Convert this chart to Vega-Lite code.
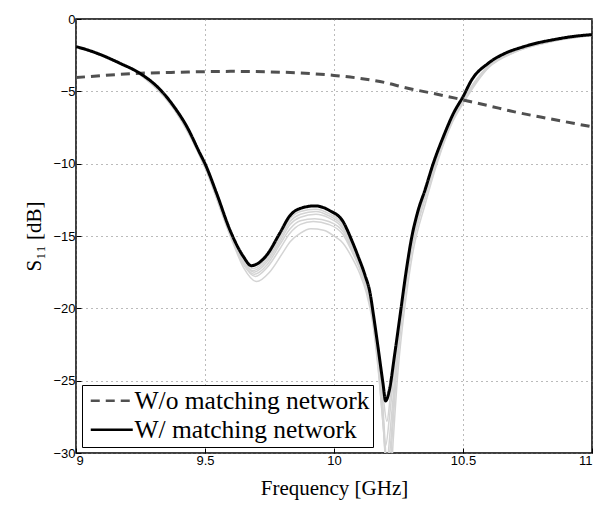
{
  "$schema": "https://vega.github.io/schema/vega-lite/v6.json",
  "width": 516,
  "height": 434,
  "autosize": {"type": "none"},
  "padding": {"left": 76, "top": 19, "right": 9, "bottom": 56},
  "background": "white",
  "config": {
    "view": {"stroke": "black", "strokeWidth": 1.5},
    "axis": {
      "domain": false,
      "grid": true,
      "gridColor": "#777777",
      "gridDash": [1, 4],
      "gridWidth": 1,
      "tickColor": "black",
      "tickSize": -5,
      "labelFont": "Liberation Sans",
      "labelFontSize": 13,
      "labelColor": "black",
      "titleFont": "Liberation Serif",
      "titleFontSize": 21,
      "titleFontWeight": "normal",
      "titleColor": "black"
    },
    "legend": {
      "orient": "bottom-left",
      "offset": 6,
      "strokeColor": "black",
      "fillColor": "white",
      "padding": 3,
      "title": null,
      "labelFont": "Liberation Serif",
      "labelFontSize": 25.5,
      "labelColor": "black",
      "labelLimit": 400,
      "symbolType": "M-1,0H5",
      "symbolSize": 196,
      "symbolStrokeWidth": 2.5,
      "rowPadding": 2,
      "labelOffset": 24
    }
  },
  "datasets": {
    "gray": [
      {"f": 9.0, "s": -1.91, "run": "g1"}, {"f": 9.1, "s": -2.5, "run": "g1"}, {"f": 9.25, "s": -3.8, "run": "g1"}, {"f": 9.38, "s": -6.1, "run": "g1"}, {"f": 9.5, "s": -10.05, "run": "g1"}, {"f": 9.6, "s": -14.8, "run": "g1"}, {"f": 9.65, "s": -16.6, "run": "g1"}, {"f": 9.685, "s": -17.25, "run": "g1"}, {"f": 9.74, "s": -16.5, "run": "g1"}, {"f": 9.79, "s": -15.0, "run": "g1"}, {"f": 9.83, "s": -13.8, "run": "g1"}, {"f": 9.87, "s": -13.3, "run": "g1"}, {"f": 9.93, "s": -13.15, "run": "g1"}, {"f": 9.98, "s": -13.45, "run": "g1"}, {"f": 10.035, "s": -14.2, "run": "g1"}, {"f": 10.07, "s": -15.5, "run": "g1"}, {"f": 10.1, "s": -16.8, "run": "g1"}, {"f": 10.125, "s": -18.1, "run": "g1"}, {"f": 10.15, "s": -20.2, "run": "g1"}, {"f": 10.17, "s": -22.8, "run": "g1"}, {"f": 10.19, "s": -26.0, "run": "g1"}, {"f": 10.205, "s": -27.8, "run": "g1"}, {"f": 10.22, "s": -25.8, "run": "g1"}, {"f": 10.24, "s": -23.0, "run": "g1"}, {"f": 10.26, "s": -20.3, "run": "g1"}, {"f": 10.28, "s": -17.8, "run": "g1"}, {"f": 10.3, "s": -15.6, "run": "g1"}, {"f": 10.35, "s": -12.2, "run": "g1"}, {"f": 10.4, "s": -9.5, "run": "g1"}, {"f": 10.46, "s": -6.8, "run": "g1"}, {"f": 10.5, "s": -5.55, "run": "g1"}, {"f": 10.6, "s": -3.2, "run": "g1"}, {"f": 10.7, "s": -2.2, "run": "g1"}, {"f": 10.85, "s": -1.48, "run": "g1"}, {"f": 11.0, "s": -1.1, "run": "g1"},

      {"f": 9.0, "s": -1.91, "run": "g2"}, {"f": 9.1, "s": -2.52, "run": "g2"}, {"f": 9.25, "s": -3.82, "run": "g2"}, {"f": 9.38, "s": -6.15, "run": "g2"}, {"f": 9.5, "s": -10.1, "run": "g2"}, {"f": 9.6, "s": -14.9, "run": "g2"}, {"f": 9.65, "s": -16.8, "run": "g2"}, {"f": 9.69, "s": -17.5, "run": "g2"}, {"f": 9.74, "s": -16.8, "run": "g2"}, {"f": 9.79, "s": -15.4, "run": "g2"}, {"f": 9.83, "s": -14.2, "run": "g2"}, {"f": 9.87, "s": -13.7, "run": "g2"}, {"f": 9.93, "s": -13.5, "run": "g2"}, {"f": 9.98, "s": -13.75, "run": "g2"}, {"f": 10.035, "s": -14.5, "run": "g2"}, {"f": 10.07, "s": -15.8, "run": "g2"}, {"f": 10.1, "s": -17.0, "run": "g2"}, {"f": 10.125, "s": -18.3, "run": "g2"}, {"f": 10.15, "s": -20.5, "run": "g2"}, {"f": 10.17, "s": -23.3, "run": "g2"}, {"f": 10.19, "s": -27.0, "run": "g2"}, {"f": 10.205, "s": -30.5, "run": "g2"}, {"f": 10.22, "s": -28.0, "run": "g2"}, {"f": 10.24, "s": -24.0, "run": "g2"}, {"f": 10.26, "s": -20.8, "run": "g2"}, {"f": 10.28, "s": -18.1, "run": "g2"}, {"f": 10.3, "s": -15.9, "run": "g2"}, {"f": 10.35, "s": -12.4, "run": "g2"}, {"f": 10.4, "s": -9.65, "run": "g2"}, {"f": 10.46, "s": -6.9, "run": "g2"}, {"f": 10.5, "s": -5.65, "run": "g2"}, {"f": 10.6, "s": -3.25, "run": "g2"}, {"f": 10.7, "s": -2.25, "run": "g2"}, {"f": 10.85, "s": -1.5, "run": "g2"}, {"f": 11.0, "s": -1.12, "run": "g2"},

      {"f": 9.0, "s": -1.91, "run": "g3"}, {"f": 9.1, "s": -2.52, "run": "g3"}, {"f": 9.25, "s": -3.85, "run": "g3"}, {"f": 9.38, "s": -6.2, "run": "g3"}, {"f": 9.5, "s": -10.2, "run": "g3"}, {"f": 9.6, "s": -15.0, "run": "g3"}, {"f": 9.65, "s": -17.0, "run": "g3"}, {"f": 9.695, "s": -17.8, "run": "g3"}, {"f": 9.74, "s": -17.2, "run": "g3"}, {"f": 9.79, "s": -15.9, "run": "g3"}, {"f": 9.83, "s": -14.8, "run": "g3"}, {"f": 9.87, "s": -14.2, "run": "g3"}, {"f": 9.92, "s": -14.0, "run": "g3"}, {"f": 9.98, "s": -14.2, "run": "g3"}, {"f": 10.035, "s": -14.9, "run": "g3"}, {"f": 10.07, "s": -16.1, "run": "g3"}, {"f": 10.1, "s": -17.3, "run": "g3"}, {"f": 10.125, "s": -18.6, "run": "g3"}, {"f": 10.15, "s": -20.8, "run": "g3"}, {"f": 10.17, "s": -23.8, "run": "g3"}, {"f": 10.19, "s": -28.0, "run": "g3"}, {"f": 10.21, "s": -32.0, "run": "g3"}, {"f": 10.225, "s": -29.0, "run": "g3"}, {"f": 10.24, "s": -25.0, "run": "g3"}, {"f": 10.26, "s": -21.2, "run": "g3"}, {"f": 10.28, "s": -18.4, "run": "g3"}, {"f": 10.3, "s": -16.1, "run": "g3"}, {"f": 10.35, "s": -12.6, "run": "g3"}, {"f": 10.4, "s": -9.8, "run": "g3"}, {"f": 10.46, "s": -7.0, "run": "g3"}, {"f": 10.5, "s": -5.75, "run": "g3"}, {"f": 10.6, "s": -3.3, "run": "g3"}, {"f": 10.7, "s": -2.28, "run": "g3"}, {"f": 10.85, "s": -1.52, "run": "g3"}, {"f": 11.0, "s": -1.13, "run": "g3"},

      {"f": 9.0, "s": -1.91, "run": "g4"}, {"f": 9.1, "s": -2.53, "run": "g4"}, {"f": 9.25, "s": -3.88, "run": "g4"}, {"f": 9.38, "s": -6.25, "run": "g4"}, {"f": 9.5, "s": -10.3, "run": "g4"}, {"f": 9.6, "s": -15.1, "run": "g4"}, {"f": 9.65, "s": -17.2, "run": "g4"}, {"f": 9.7, "s": -18.15, "run": "g4"}, {"f": 9.75, "s": -17.5, "run": "g4"}, {"f": 9.8, "s": -16.2, "run": "g4"}, {"f": 9.83, "s": -15.4, "run": "g4"}, {"f": 9.87, "s": -14.8, "run": "g4"}, {"f": 9.91, "s": -14.5, "run": "g4"}, {"f": 9.96, "s": -14.6, "run": "g4"}, {"f": 10.0, "s": -15.0, "run": "g4"}, {"f": 10.035, "s": -15.5, "run": "g4"}, {"f": 10.07, "s": -16.5, "run": "g4"}, {"f": 10.1, "s": -17.6, "run": "g4"}, {"f": 10.125, "s": -18.9, "run": "g4"}, {"f": 10.15, "s": -21.0, "run": "g4"}, {"f": 10.17, "s": -24.0, "run": "g4"}, {"f": 10.195, "s": -29.0, "run": "g4"}, {"f": 10.215, "s": -33.0, "run": "g4"}, {"f": 10.23, "s": -29.0, "run": "g4"}, {"f": 10.245, "s": -25.0, "run": "g4"}, {"f": 10.265, "s": -21.3, "run": "g4"}, {"f": 10.285, "s": -18.5, "run": "g4"}, {"f": 10.305, "s": -16.2, "run": "g4"}, {"f": 10.355, "s": -12.7, "run": "g4"}, {"f": 10.4, "s": -9.95, "run": "g4"}, {"f": 10.46, "s": -7.1, "run": "g4"}, {"f": 10.5, "s": -5.85, "run": "g4"}, {"f": 10.6, "s": -3.35, "run": "g4"}, {"f": 10.7, "s": -2.3, "run": "g4"}, {"f": 10.85, "s": -1.54, "run": "g4"}, {"f": 11.0, "s": -1.14, "run": "g4"},

      {"f": 9.0, "s": -1.91, "run": "g5"}, {"f": 9.1, "s": -2.51, "run": "g5"}, {"f": 9.25, "s": -3.8, "run": "g5"}, {"f": 9.38, "s": -6.12, "run": "g5"}, {"f": 9.5, "s": -10.08, "run": "g5"}, {"f": 9.6, "s": -14.85, "run": "g5"}, {"f": 9.65, "s": -16.7, "run": "g5"}, {"f": 9.685, "s": -17.4, "run": "g5"}, {"f": 9.74, "s": -16.65, "run": "g5"}, {"f": 9.79, "s": -15.2, "run": "g5"}, {"f": 9.83, "s": -14.0, "run": "g5"}, {"f": 9.87, "s": -13.5, "run": "g5"}, {"f": 9.93, "s": -13.3, "run": "g5"}, {"f": 9.98, "s": -13.6, "run": "g5"}, {"f": 10.035, "s": -14.35, "run": "g5"}, {"f": 10.07, "s": -15.65, "run": "g5"}, {"f": 10.1, "s": -16.9, "run": "g5"}, {"f": 10.125, "s": -18.2, "run": "g5"}, {"f": 10.15, "s": -20.3, "run": "g5"}, {"f": 10.17, "s": -23.0, "run": "g5"}, {"f": 10.185, "s": -26.0, "run": "g5"}, {"f": 10.2, "s": -29.5, "run": "g5"}, {"f": 10.215, "s": -27.5, "run": "g5"}, {"f": 10.235, "s": -24.0, "run": "g5"}, {"f": 10.255, "s": -21.0, "run": "g5"}, {"f": 10.28, "s": -17.9, "run": "g5"}, {"f": 10.3, "s": -15.7, "run": "g5"}, {"f": 10.35, "s": -12.3, "run": "g5"}, {"f": 10.4, "s": -9.55, "run": "g5"}, {"f": 10.46, "s": -6.85, "run": "g5"}, {"f": 10.5, "s": -5.6, "run": "g5"}, {"f": 10.6, "s": -3.22, "run": "g5"}, {"f": 10.7, "s": -2.22, "run": "g5"}, {"f": 10.85, "s": -1.49, "run": "g5"}, {"f": 11.0, "s": -1.11, "run": "g5"},

      {"f": 9.0, "s": -1.91, "run": "g6"}, {"f": 9.1, "s": -2.52, "run": "g6"}, {"f": 9.25, "s": -3.83, "run": "g6"}, {"f": 9.38, "s": -6.18, "run": "g6"}, {"f": 9.5, "s": -10.15, "run": "g6"}, {"f": 9.6, "s": -14.95, "run": "g6"}, {"f": 9.65, "s": -16.9, "run": "g6"}, {"f": 9.69, "s": -17.65, "run": "g6"}, {"f": 9.74, "s": -17.0, "run": "g6"}, {"f": 9.79, "s": -15.6, "run": "g6"}, {"f": 9.83, "s": -14.5, "run": "g6"}, {"f": 9.87, "s": -13.95, "run": "g6"}, {"f": 9.925, "s": -13.8, "run": "g6"}, {"f": 9.98, "s": -14.0, "run": "g6"}, {"f": 10.035, "s": -14.7, "run": "g6"}, {"f": 10.07, "s": -15.95, "run": "g6"}, {"f": 10.1, "s": -17.15, "run": "g6"}, {"f": 10.125, "s": -18.45, "run": "g6"}, {"f": 10.15, "s": -20.6, "run": "g6"}, {"f": 10.17, "s": -23.5, "run": "g6"}, {"f": 10.19, "s": -27.5, "run": "g6"}, {"f": 10.2, "s": -30.5, "run": "g6"}, {"f": 10.215, "s": -30.0, "run": "g6"}, {"f": 10.235, "s": -25.5, "run": "g6"}, {"f": 10.255, "s": -21.6, "run": "g6"}, {"f": 10.28, "s": -18.2, "run": "g6"}, {"f": 10.3, "s": -15.9, "run": "g6"}, {"f": 10.35, "s": -12.5, "run": "g6"}, {"f": 10.4, "s": -9.7, "run": "g6"}, {"f": 10.46, "s": -6.95, "run": "g6"}, {"f": 10.5, "s": -5.7, "run": "g6"}, {"f": 10.6, "s": -3.27, "run": "g6"}, {"f": 10.7, "s": -2.26, "run": "g6"}, {"f": 10.85, "s": -1.51, "run": "g6"}, {"f": 11.0, "s": -1.12, "run": "g6"}
    ],
    "main": [
      {"f": 9.0, "s": -4.05, "series": "W/o matching network"},
      {"f": 9.25, "s": -3.75, "series": "W/o matching network"},
      {"f": 9.4, "s": -3.68, "series": "W/o matching network"},
      {"f": 9.6, "s": -3.62, "series": "W/o matching network"},
      {"f": 9.8, "s": -3.68, "series": "W/o matching network"},
      {"f": 10.0, "s": -3.9, "series": "W/o matching network"},
      {"f": 10.1, "s": -4.1, "series": "W/o matching network"},
      {"f": 10.2, "s": -4.4, "series": "W/o matching network"},
      {"f": 10.27, "s": -4.72, "series": "W/o matching network"},
      {"f": 10.4, "s": -5.2, "series": "W/o matching network"},
      {"f": 10.47, "s": -5.47, "series": "W/o matching network"},
      {"f": 10.6, "s": -6.0, "series": "W/o matching network"},
      {"f": 10.7, "s": -6.42, "series": "W/o matching network"},
      {"f": 10.84, "s": -6.91, "series": "W/o matching network"},
      {"f": 11.0, "s": -7.45, "series": "W/o matching network"},

      {"f": 9.0, "s": -1.91, "series": "W/ matching network"},
      {"f": 9.05, "s": -2.17, "series": "W/ matching network"},
      {"f": 9.1, "s": -2.5, "series": "W/ matching network"},
      {"f": 9.17, "s": -3.06, "series": "W/ matching network"},
      {"f": 9.25, "s": -3.78, "series": "W/ matching network"},
      {"f": 9.33, "s": -4.95, "series": "W/ matching network"},
      {"f": 9.38, "s": -6.06, "series": "W/ matching network"},
      {"f": 9.43, "s": -7.45, "series": "W/ matching network"},
      {"f": 9.48, "s": -9.28, "series": "W/ matching network"},
      {"f": 9.5, "s": -10.0, "series": "W/ matching network"},
      {"f": 9.545, "s": -12.05, "series": "W/ matching network"},
      {"f": 9.597, "s": -14.6, "series": "W/ matching network"},
      {"f": 9.648, "s": -16.4, "series": "W/ matching network"},
      {"f": 9.68, "s": -17.05, "series": "W/ matching network"},
      {"f": 9.7, "s": -16.95, "series": "W/ matching network"},
      {"f": 9.74, "s": -16.3, "series": "W/ matching network"},
      {"f": 9.79, "s": -14.8, "series": "W/ matching network"},
      {"f": 9.829, "s": -13.6, "series": "W/ matching network"},
      {"f": 9.868, "s": -13.1, "series": "W/ matching network"},
      {"f": 9.926, "s": -12.92, "series": "W/ matching network"},
      {"f": 9.984, "s": -13.25, "series": "W/ matching network"},
      {"f": 10.035, "s": -14.0, "series": "W/ matching network"},
      {"f": 10.068, "s": -15.27, "series": "W/ matching network"},
      {"f": 10.094, "s": -16.43, "series": "W/ matching network"},
      {"f": 10.12, "s": -17.7, "series": "W/ matching network"},
      {"f": 10.14, "s": -18.96, "series": "W/ matching network"},
      {"f": 10.152, "s": -20.34, "series": "W/ matching network"},
      {"f": 10.17, "s": -22.6, "series": "W/ matching network"},
      {"f": 10.19, "s": -25.2, "series": "W/ matching network"},
      {"f": 10.2, "s": -26.4, "series": "W/ matching network"},
      {"f": 10.214, "s": -25.7, "series": "W/ matching network"},
      {"f": 10.235, "s": -23.2, "series": "W/ matching network"},
      {"f": 10.256, "s": -20.5, "series": "W/ matching network"},
      {"f": 10.28, "s": -17.4, "series": "W/ matching network"},
      {"f": 10.3, "s": -15.2, "series": "W/ matching network"},
      {"f": 10.325, "s": -13.3, "series": "W/ matching network"},
      {"f": 10.353, "s": -11.8, "series": "W/ matching network"},
      {"f": 10.385, "s": -9.97, "series": "W/ matching network"},
      {"f": 10.424, "s": -8.13, "series": "W/ matching network"},
      {"f": 10.463, "s": -6.52, "series": "W/ matching network"},
      {"f": 10.5, "s": -5.37, "series": "W/ matching network"},
      {"f": 10.534, "s": -4.2, "series": "W/ matching network"},
      {"f": 10.598, "s": -3.06, "series": "W/ matching network"},
      {"f": 10.663, "s": -2.37, "series": "W/ matching network"},
      {"f": 10.727, "s": -1.96, "series": "W/ matching network"},
      {"f": 10.792, "s": -1.64, "series": "W/ matching network"},
      {"f": 10.857, "s": -1.41, "series": "W/ matching network"},
      {"f": 10.921, "s": -1.22, "series": "W/ matching network"},
      {"f": 11.0, "s": -1.08, "series": "W/ matching network"}
    ]
  },
  "encoding": {
    "x": {
      "field": "f",
      "type": "quantitative",
      "scale": {"domain": [9, 11], "nice": false, "zero": false},
      "axis": {"values": [9, 9.5, 10, 10.5, 11], "format": "~g", "title": "Frequency [GHz]", "titlePadding": 10, "labelPadding": 6}
    },
    "y": {
      "field": "s",
      "type": "quantitative",
      "scale": {"domain": [-30, 0], "nice": false, "zero": false},
      "axis": {"values": [-30, -25, -20, -15, -10, -5, 0], "title": "S₁₁  [dB]", "titlePadding": 8, "labelPadding": 6}
    }
  },
  "layer": [
    {
      "data": {"name": "gray"},
      "mark": {"type": "line", "clip": true, "interpolate": "monotone", "color": "#d4d4d4", "strokeWidth": 1.5},
      "encoding": {"detail": {"field": "run"}}
    },
    {
      "data": {"name": "main"},
      "mark": {"type": "line", "clip": true, "interpolate": "monotone", "strokeWidth": 3},
      "encoding": {
        "color": {
          "field": "series",
          "type": "nominal",
          "scale": {"domain": ["W/o matching network", "W/ matching network"], "range": ["#505050", "#000000"]}
        },
        "strokeDash": {
          "field": "series",
          "type": "nominal",
          "scale": {"domain": ["W/o matching network", "W/ matching network"], "range": [[9, 6], [1, 0]]}
        }
      }
    }
  ]
}
